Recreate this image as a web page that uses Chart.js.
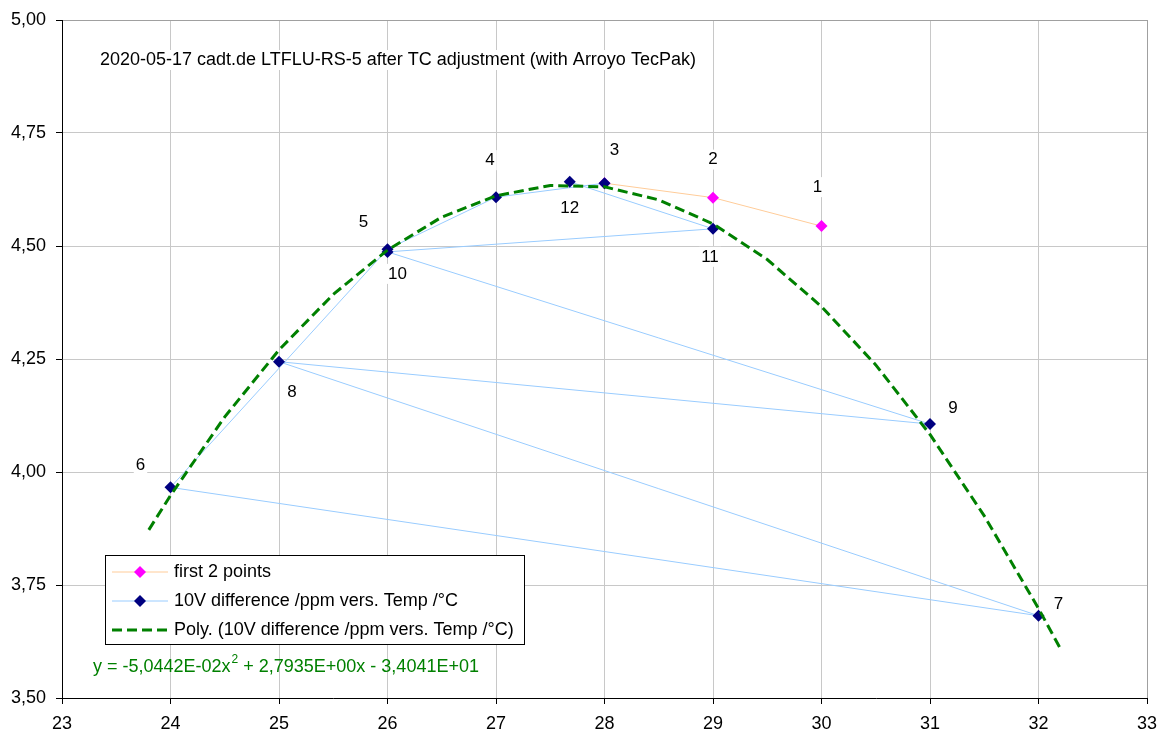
<!DOCTYPE html>
<html lang="en">
<head>
<meta charset="UTF-8">
<title>LTFLU-RS-5 after TC adjustment</title>
<script src="https://cdn.jsdelivr.net/npm/chart.js"></script>
<style>
  html, body { margin: 0; padding: 0; background: #fff; }
  #wrap { width: 1161px; height: 733px; }
</style>
</head>
<body>
<div id="wrap"><canvas id="tcChart"></canvas></div>
<script>
// measured points, in measurement order (labels 1..12)
const firstTemp = [30, 29, 28];
const firstPpm = [4.544, 4.607, 4.639];
const diffTemp = [28, 27, 26, 24, 32, 25, 31, 26, 29, 27.68];
const diffPpm = [4.639, 4.608, 4.493, 3.966, 3.682, 4.244, 4.106, 4.487, 4.538, 4.642];

// trendline
const polyTemp = [23.8, 24, 24.5, 25, 25.5, 26, 26.5, 27, 27.5, 28, 28.5, 29, 29.5, 30, 30.5, 31, 31.5, 32, 32.2];
const polyPpm = [3.872, 3.948, 4.122, 4.270, 4.393, 4.491, 4.564, 4.611, 4.634, 4.631, 4.602, 4.549, 4.470, 4.366, 4.237, 4.083, 3.903, 3.698, 3.610];

const xTicks = [23, 24, 25, 26, 27, 28, 29, 30, 31, 32, 33];
const yTicks = [3.5, 3.75, 4.0, 4.25, 4.5, 4.75, 5.0];
const pointNumbers = ['1', '2', '3', '4', '5', '6', '7', '8', '9', '10', '11', '12'];

const TITLE = '2020-05-17 cadt.de LTFLU-RS-5 after TC adjustment (with Arroyo TecPak)';
const FONT = '"Liberation Sans", Arial, sans-serif';

// pixel offsets of the number labels from their points
const labelOffsets = [[-4, -39], [0, -38], [10, -33], [-6, -37], [-24, -27], [-30, -22],
                      [20, -11], [13, 31], [23, -16], [10, 22], [-3, 28], [0, 26]];

function toXY(xs, ys) {
    return xs.map((x, i) => ({ x: x, y: ys[i] }));
}

function textWithBg(ctx, txt, x, y, align) {
    const w = ctx.measureText(txt).width;
    const left = align === 'center' ? x - w / 2 : x;
    ctx.fillStyle = '#fff';
    ctx.fillRect(left - 2, y - 10, w + 4, 20);
    ctx.fillStyle = '#000';
    ctx.textAlign = align;
    ctx.textBaseline = 'middle';
    ctx.fillText(txt, x, y);
}

function diamond(ctx, x, y, r, color) {
    ctx.fillStyle = color;
    ctx.beginPath();
    ctx.moveTo(x, y - r);
    ctx.lineTo(x + r, y);
    ctx.lineTo(x, y + r);
    ctx.lineTo(x - r, y);
    ctx.closePath();
    ctx.fill();
}

const overlay = {
    id: 'overlay',
    afterDatasetsDraw(chart) {
        const ctx = chart.ctx;
        ctx.save();
        ctx.font = '18px ' + FONT;

        textWithBg(ctx, TITLE, 100, 60, 'left');

        // point numbers
        ctx.font = '17px ' + FONT;
        const m0 = chart.getDatasetMeta(0).data;
        const m1 = chart.getDatasetMeta(1).data;
        pointNumbers.forEach((lbl, i) => {
            const el = i < 2 ? m0[i] : m1[i - 2];
            const off = labelOffsets[i];
            textWithBg(ctx, lbl, el.x + off[0], el.y + off[1], 'center');
        });

        // legend box
        ctx.font = '18px ' + FONT;
        const ds = chart.data.datasets;
        ctx.fillStyle = '#fff';
        ctx.fillRect(105, 555, 419, 89);
        ctx.strokeStyle = '#000';
        ctx.lineWidth = 1;
        ctx.strokeRect(105.5, 555.5, 419, 89);
        const rows = [572, 601, 630];
        [0, 1, 2].forEach(i => {
            const d = ds[i];
            const y = rows[i];
            ctx.strokeStyle = d.borderColor;
            ctx.lineWidth = d.borderWidth;
            ctx.setLineDash(d.borderDash || []);
            ctx.beginPath();
            ctx.moveTo(112, y);
            ctx.lineTo(168, y);
            ctx.stroke();
            ctx.setLineDash([]);
            if (d.pointRadius > 0) diamond(ctx, 140, y, 6, d.pointBackgroundColor);
            ctx.fillStyle = '#000';
            ctx.textAlign = 'left';
            ctx.textBaseline = 'middle';
            ctx.fillText(d.label, 174, y);
        });

        // trendline equation
        ctx.fillStyle = '#008000';
        let x = 93;
        const ey = 667;
        const p1 = 'y = -5,0442E-02x';
        const p2 = ' + 2,7935E+00x - 3,4041E+01';
        ctx.fillText(p1, x, ey);
        x += ctx.measureText(p1).width;
        ctx.font = '12px ' + FONT;
        ctx.fillText('2', x + 1, ey - 7);
        x += ctx.measureText('2').width + 1;
        ctx.font = '18px ' + FONT;
        ctx.fillText(p2, x, ey);

        ctx.restore();
    }
};

var ctx = document.getElementById('tcChart').getContext('2d');
var chart = new Chart(ctx, {
    type: 'scatter',
    data: {
        datasets: [{
            label: 'first 2 points',
            data: toXY(firstTemp, firstPpm),
            showLine: true,
            borderColor: '#ffcc99',
            borderWidth: 1,
            pointStyle: 'rectRot',
            pointRadius: 6,
            pointBackgroundColor: '#ff00ff',
            pointBorderWidth: 0,
            order: 2
        }, {
            label: '10V difference /ppm vers. Temp /°C',
            data: toXY(diffTemp, diffPpm),
            showLine: true,
            borderColor: '#99ccff',
            borderWidth: 1,
            pointStyle: 'rectRot',
            pointRadius: 6,
            pointBackgroundColor: '#000080',
            pointBorderWidth: 0,
            order: 1
        }, {
            label: 'Poly. (10V difference /ppm vers. Temp /°C)',
            data: toXY(polyTemp, polyPpm),
            showLine: true,
            borderColor: '#008000',
            borderWidth: 3,
            borderDash: [10, 5],
            pointRadius: 0,
            order: 0
        }]
    },
    options: {
        responsive: true,
        maintainAspectRatio: false,
        animation: false,
        layout: { padding: { top: 20, right: 14, left: 0, bottom: 0 } },
        plugins: {
            legend: { display: false },
            tooltip: { enabled: false }
        },
        scales: {
            x: {
                type: 'linear',
                min: xTicks[0],
                max: xTicks[xTicks.length - 1],
                afterBuildTicks: s => { s.ticks = xTicks.map(v => ({ value: v })); },
                afterFit: s => { s.height = 35; s.paddingLeft = 0; s.paddingRight = 0; },
                ticks: {
                    color: '#000',
                    font: { family: FONT, size: 18 },
                    padding: 9,
                    callback: v => String(v)
                },
                grid: {
                    color: c => c.tick && c.tick.value === 33 ? '#a0a0a0' : '#c8c8c8',
                    tickColor: '#000',
                    tickLength: 6
                },
                border: { color: '#000', width: 1 }
            },
            y: {
                min: yTicks[0],
                max: yTicks[yTicks.length - 1],
                afterBuildTicks: s => { s.ticks = yTicks.map(v => ({ value: v })); },
                afterFit: s => { s.width = 62; s.paddingTop = 0; s.paddingBottom = 0; },
                ticks: {
                    color: '#000',
                    font: { family: FONT, size: 18 },
                    padding: 10,
                    callback: v => v.toFixed(2).replace('.', ',')
                },
                grid: {
                    color: c => c.tick && c.tick.value === 5 ? '#a0a0a0' : '#c8c8c8',
                    tickColor: '#000',
                    tickLength: 6
                },
                border: { color: '#000', width: 1 }
            }
        }
    },
    plugins: [overlay]
});
</script>
</body>
</html>
